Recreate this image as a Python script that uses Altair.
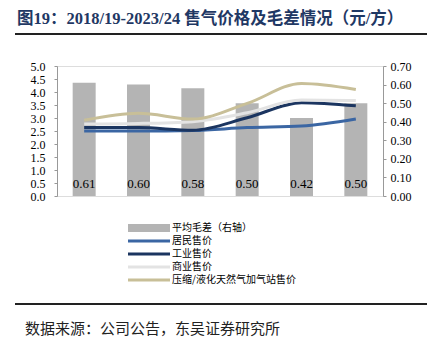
import altair as alt
import pandas as pd

# ---- data ----
years = ["18/19", "19/20", "20/21", "21/22", "22/23", "23/24"]
margin = [0.61, 0.60, 0.58, 0.50, 0.42, 0.50]
residential = [2.50, 2.50, 2.52, 2.63, 2.69, 2.96]
industrial = [2.63, 2.63, 2.53, 3.01, 3.59, 3.47]
commercial = [2.77, 2.79, 2.86, 3.20, 3.69, 3.67]
station = [2.91, 3.18, 2.96, 3.56, 4.33, 4.10]

bar_label = "平均毛差（右轴）"
series_labels = ["居民售价", "工业售价", "商业售价", "压缩/液化天然气加气站售价"]
series_colors = ["#3b66a3", "#1b3560", "#e3e3e3", "#c8bf98"]
bar_color = "#b4b4b4"

title_text = "图19：2018/19-2023/24 售气价格及毛差情况（元/方）"
source_text = "数据来源：公司公告，东吴证券研究所"

SERIF = "Liberation Serif, Noto Sans CJK SC"
CJK = "Noto Sans CJK SC"

bar_df = pd.DataFrame({"year": years, "margin": margin})
line_df = pd.DataFrame(
    [
        {"year": y, "series": s, "price": v, "order": i}
        for i, (s, vals) in enumerate(zip(series_labels, [residential, industrial, commercial, station]))
        for y, v in zip(years, vals)
    ]
)
legend_labels = [bar_label] + series_labels
legend_df = pd.DataFrame({"label": legend_labels})
legend_line_df = pd.DataFrame({"label": series_labels, "series": series_labels})

xenc = alt.X(
    "year:N",
    sort=years,
    scale=alt.Scale(domain=years),
    axis=alt.Axis(
        title=None,
        labelAngle=0,
        labelFont=SERIF,
        labelFontSize=12,
        labelColor="#000",
        labelPadding=5,
        tickBand="extent",
        tickSize=4,
        tickColor="#888",
        domainColor="#777",
    ),
)

bars = alt.Chart(bar_df).mark_bar(size=23, color=bar_color).encode(
    x=xenc,
    y=alt.Y(
        "margin:Q",
        scale=alt.Scale(domain=[0, 0.7], nice=False),
        axis=alt.Axis(
            orient="right",
            title=None,
            values=[0, 0.1, 0.2, 0.3, 0.4, 0.5, 0.6, 0.7],
            format=".2f",
            labelFont=SERIF,
            labelFontSize=12,
            labelColor="#000",
            tickSize=3,
            tickColor="#999",
            domainColor="#999",
            grid=False,
            labelPadding=4,
        ),
    ),
)

bar_text = alt.Chart(bar_df).mark_text(
    font=SERIF, fontSize=13, color="#000", baseline="middle"
).encode(
    x=alt.X("year:N", sort=years, scale=alt.Scale(domain=years), axis=None),
    y=alt.value(118),
    text=alt.Text("margin:Q", format=".2f"),
)

color_scale = alt.Scale(domain=series_labels, range=series_colors)

lines = alt.Chart(line_df).mark_line(strokeWidth=3, interpolate="monotone").encode(
    x=alt.X("year:N", sort=years, scale=alt.Scale(domain=years), axis=None),
    y=alt.Y(
        "price:Q",
        scale=alt.Scale(domain=[0, 5], nice=False),
        axis=alt.Axis(
            orient="left",
            title=None,
            values=[0, 0.5, 1, 1.5, 2, 2.5, 3, 3.5, 4, 4.5, 5],
            format=".1f",
            labelFont=SERIF,
            labelFontSize=12,
            labelColor="#000",
            tickSize=3,
            tickColor="#999",
            domainColor="#999",
            grid=False,
            labelPadding=9,
        ),
    ),
    color=alt.Color("series:N", scale=color_scale, legend=None),
    order=alt.Order("order:Q"),
    detail="series:N",
)

leg_y_scale = alt.Scale(type="point", domain=legend_labels, range=[162, 214], padding=0)

leg_bar = alt.Chart(pd.DataFrame({"label": [bar_label]})).mark_rule(
    strokeWidth=8, color=bar_color
).encode(
    y=alt.Y("label:N", scale=leg_y_scale, axis=None),
    x=alt.value(71),
    x2=alt.value(113),
)

leg_lines = alt.Chart(legend_line_df).mark_rule(strokeWidth=3).encode(
    y=alt.Y("label:N", scale=leg_y_scale, axis=None),
    x=alt.value(71),
    x2=alt.value(113),
    color=alt.Color("series:N", scale=color_scale, legend=None),
)

leg_text = alt.Chart(legend_df).mark_text(
    font=CJK, fontSize=10, color="#000", align="left", baseline="middle"
).encode(
    y=alt.Y("label:N", scale=leg_y_scale, axis=None),
    x=alt.value(115),
    text="label:N",
)

one = pd.DataFrame({"t": [title_text]})
title = alt.Chart(one).mark_text(
    font=SERIF, fontSize=16.5, fontWeight="bold", color="#1f3864", align="left", baseline="alphabetic"
).encode(x=alt.value(-40), y=alt.value(-42), text="t:N")

src = alt.Chart(pd.DataFrame({"t": [source_text]})).mark_text(
    font=CJK, fontSize=15, color="#222", align="left", baseline="middle"
).encode(x=alt.value(-32), y=alt.value(263), text="t:N")

rule_df = pd.DataFrame({"k": [0]})
top_rule = alt.Chart(rule_df).mark_rule(strokeWidth=2, color="#222").encode(
    x=alt.value(-42), x2=alt.value(370), y=alt.value(-32)
)
bot_rule = alt.Chart(rule_df).mark_rule(strokeWidth=2, color="#222").encode(
    x=alt.value(-42), x2=alt.value(370), y=alt.value(238)
)

chart = (
    alt.layer(bars, bar_text, lines, leg_bar, leg_lines, leg_text, title, src, top_rule, bot_rule)
    .resolve_scale(y="independent")
    .properties(
        width=326,
        height=130,
        autosize=alt.AutoSizeParams(type="none"),
        padding={"left": 57, "top": 66, "right": 47, "bottom": 148},
    )
    .configure_view(stroke=None)
    .configure(background="white")
)

chart.save("out.html", embed_options={"renderer": "svg", "actions": False})
